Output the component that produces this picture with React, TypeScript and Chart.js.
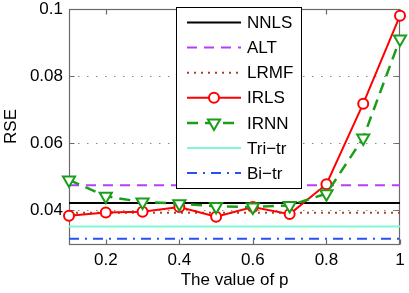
import React, { useEffect, useRef } from "react";
import { Chart, registerables } from "chart.js";

Chart.register(...registerables);

// ---- data ----
const pValues = [0.1, 0.2, 0.3, 0.4, 0.5, 0.6, 0.7, 0.8, 0.9, 1.0];
const irlsRSE = [0.0384, 0.0394, 0.0396, 0.041, 0.0381, 0.041, 0.0389, 0.0478, 0.0718, 0.098];
const irnnRSE = [0.0491, 0.0442, 0.0425, 0.042, 0.0412, 0.041, 0.0415, 0.045, 0.0616, 0.0911];
const nnlsRSE = [0.0422, 0.0422];
const altRSE = [0.0475, 0.0475];
const lrmfRSE = [0.0393, 0.0393];
const triTrRSE = [0.0352, 0.0352];
const biTrRSE = [0.0316, 0.0316];
const lineSpan = [0.1, 1.0];
const xTickValues = [0.2, 0.4, 0.6, 0.8, 1.0];
const yTickValues = [0.04, 0.06, 0.08, 0.1];

const FONT = "'Liberation Sans', Arial, Helvetica, sans-serif";

const toPts = (xs: number[], ys: number[]) => xs.map((x, i) => ({ x, y: ys[i] }));

const fmt = (v: number | string) => String(Number(Number(v).toFixed(2)));

const boxPlugin = {
  id: "matlabBox",
  beforeDatasetsDraw(chart: any) {
    const { ctx, chartArea, scales } = chart;
    const { left, right, top, bottom } = chartArea;
    const x = scales.x;
    const y = scales.y;
    ctx.save();
    // dotted grid lines
    ctx.strokeStyle = "#8a8a8a";
    ctx.lineWidth = 1;
    ctx.setLineDash([1.5, 7.5]);
    yTickValues.forEach((v) => {
      const py = Math.round(y.getPixelForValue(v)) + 0.5;
      ctx.beginPath();
      ctx.moveTo(left, py);
      ctx.lineTo(right, py);
      ctx.stroke();
    });
    ctx.setLineDash([]);
    // box
    ctx.strokeStyle = "#6a6a6a";
    ctx.lineWidth = 1.2;
    const L = Math.round(left) + 0.5;
    const R = Math.round(right) - 0.5;
    const T = Math.round(top) + 0.5;
    const B = Math.round(bottom) + 0.5;
    ctx.strokeRect(L, T, R - L, B - T);
    // inward ticks
    const tl = 5;
    ctx.beginPath();
    xTickValues.forEach((v) => {
      const px = Math.round(x.getPixelForValue(v)) + 0.5;
      ctx.moveTo(px, B);
      ctx.lineTo(px, B - tl);
      ctx.moveTo(px, T);
      ctx.lineTo(px, T + tl);
    });
    yTickValues.forEach((v) => {
      const py = Math.round(y.getPixelForValue(v)) + 0.5;
      ctx.moveTo(L, py);
      ctx.lineTo(L + tl, py);
      ctx.moveTo(R, py);
      ctx.lineTo(R - tl, py);
    });
    ctx.stroke();
    ctx.restore();
  },
  afterDraw(chart: any) {
    const { ctx } = chart;
    const datasets = chart.data.datasets;
    ctx.save();
    // legend box
    const bx = 176.5, by = 7.5, bw = 125, bh = 181;
    ctx.fillStyle = "#ffffff";
    ctx.fillRect(bx, by, bw, bh);
    ctx.strokeStyle = "#000000";
    ctx.lineWidth = 1;
    ctx.strokeRect(bx, by, bw, bh);
    const x0 = 187, x1 = 241, xm = 214;
    datasets.forEach((ds: any, i: number) => {
      const yy = 22.5 + i * 25.1;
      ctx.strokeStyle = ds.borderColor;
      ctx.lineWidth = ds.borderWidth;
      ctx.setLineDash(ds.borderDash || []);
      ctx.beginPath();
      ctx.moveTo(x0, yy);
      ctx.lineTo(x1, yy);
      ctx.stroke();
      ctx.setLineDash([]);
      if (ds.pointRadius > 0) {
        ctx.fillStyle = "#ffffff";
        ctx.strokeStyle = ds.pointBorderColor;
        ctx.lineWidth = ds.pointBorderWidth;
        ctx.beginPath();
        if (ds.pointStyle === "circle") {
          ctx.arc(xm, yy, ds.pointRadius, 0, Math.PI * 2);
        } else {
          const r = ds.pointRadius;
          const cy = yy;
          ctx.moveTo(xm, cy + r);
          ctx.lineTo(xm - r * Math.sin(Math.PI / 3), cy - r / 2);
          ctx.lineTo(xm + r * Math.sin(Math.PI / 3), cy - r / 2);
          ctx.closePath();
        }
        ctx.fill();
        ctx.stroke();
      }
      ctx.fillStyle = "#000000";
      ctx.font = `17px ${FONT}`;
      ctx.textBaseline = "middle";
      ctx.textAlign = "left";
      ctx.fillText(ds.label, 247, yy + 1);
    });
    ctx.restore();
  },
};

export default function App() {
  const ref = useRef<HTMLCanvasElement | null>(null);
  useEffect(() => {
    if (!ref.current) return;
    const flat = (label: string, ys: number[], color: string, dash: number[], order: number) => ({
      label,
      data: toPts(lineSpan, ys),
      borderColor: color,
      backgroundColor: color,
      borderWidth: 2,
      borderDash: dash,
      pointRadius: 0,
      order,
      clip: false,
    });
    const chart = new Chart(ref.current, {
      type: "line",
      data: {
        datasets: [
          flat("NNLS", nnlsRSE, "#000000", [], 7),
          flat("ALT", altRSE, "#b63ff5", [10, 7], 6),
          flat("LRMF", lrmfRSE, "#a3452b", [2, 5], 5),
          {
            label: "IRLS",
            data: toPts(pValues, irlsRSE),
            borderColor: "#ff0000",
            backgroundColor: "#ffffff",
            borderWidth: 2,
            pointStyle: "circle",
            pointRadius: 5,
            pointBorderWidth: 2,
            pointBorderColor: "#ff0000",
            pointBackgroundColor: "#ffffff",
            order: 4,
            clip: false,
          },
          {
            label: "IRNN",
            data: toPts(pValues, irnnRSE),
            borderColor: "#1a9e1a",
            backgroundColor: "#ffffff",
            borderWidth: 2.5,
            borderDash: [11, 7],
            pointStyle: "triangle",
            rotation: 180,
            pointRadius: 7,
            pointBorderWidth: 2,
            pointBorderColor: "#1a9e1a",
            pointBackgroundColor: "#ffffff",
            order: 3,
            clip: false,
          },
          flat("Tri\u2212tr", triTrRSE, "#7ff8d8", [], 2),
          flat("Bi\u2212tr", biTrRSE, "#2850f2", [10, 6, 2, 6], 1),
        ] as any,
      },
      options: {
        animation: false,
        responsive: false,
        devicePixelRatio: 1,
        layout: { padding: { top: 7, right: 9, left: 0, bottom: 0 } },
        plugins: { legend: { display: false }, tooltip: { enabled: false } },
        elements: { line: { tension: 0 } },
        scales: {
          x: {
            type: "linear",
            min: 0.1,
            max: 1,
            grid: { display: false, drawTicks: false },
            border: { display: false },
            afterBuildTicks: (s: any) => {
              s.ticks = xTickValues.map((v) => ({ value: v }));
            },
            afterFit: (s: any) => {
              s.height = 49;
              s.paddingLeft = 0;
              s.paddingRight = 0;
            },
            ticks: {
              autoSkip: false,
              maxRotation: 0,
              padding: 6,
              color: "#000",
              font: { family: FONT, size: 17 },
              callback: (v: any) => fmt(v),
            },
            title: {
              display: true,
              text: "The value of p",
              color: "#000",
              font: { family: FONT, size: 17 },
              padding: { top: 0, bottom: 2 },
            },
          },
          y: {
            type: "linear",
            min: 0.03,
            max: 0.1,
            grid: { display: false, drawTicks: false },
            border: { display: false },
            afterBuildTicks: (s: any) => {
              s.ticks = yTickValues.map((v) => ({ value: v }));
            },
            afterFit: (s: any) => {
              s.width = 69;
              s.paddingTop = 0;
              s.paddingBottom = 0;
            },
            ticks: {
              autoSkip: false,
              padding: 6,
              color: "#000",
              font: { family: FONT, size: 17 },
              callback: (v: any) => fmt(v),
            },
            title: {
              display: true,
              text: "RSE",
              color: "#000",
              font: { family: FONT, size: 17 },
              padding: { top: 1, bottom: 0 },
            },
          },
        },
      } as any,
      plugins: [boxPlugin],
    });
    return () => chart.destroy();
  }, []);
  return (
    <div style={{ position: "fixed", left: 0, top: 0, width: 409, height: 293, background: "#fff" }}>
      <canvas ref={ref} width={409} height={293} style={{ display: "block" }} />
    </div>
  );
}
